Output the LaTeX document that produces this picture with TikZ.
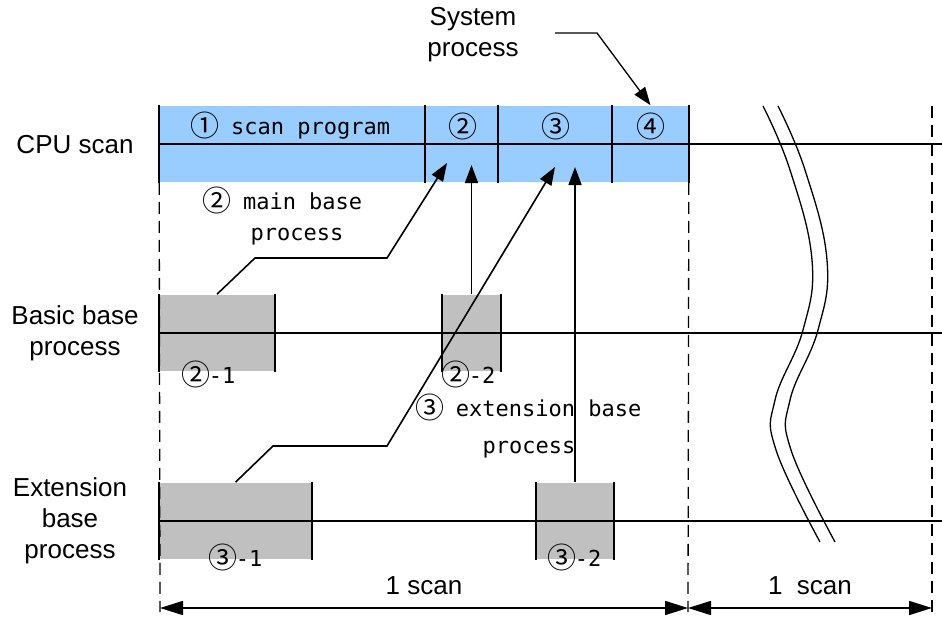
\documentclass[tikz,border=0pt]{standalone}
\usepackage{fontspec}
\setmainfont{Liberation Sans}
\newfontfamily\gulim{DejaVu Sans Mono}
\newfontfamily\circfnt{Noto Sans CJK KR}
\usetikzlibrary{arrows.meta}
\definecolor{scanblue}{RGB}{153,204,255}
\definecolor{procgray}{RGB}{192,192,192}
\newcommand{\cnum}[1]{\makebox[26pt]{\circfnt\fontsize{29}{29}\selectfont\raisebox{-2pt}{#1}}}
\tikzset{
  cell/.style={fill=scanblue, inner sep=0pt, minimum height=76pt},
  procbox/.style={fill=procgray, inner sep=0pt, minimum height=76pt},
  mono/.style={font=\gulim\fontsize{22}{37}\selectfont, inner sep=0pt, align=center},
  tip/.style={-{Triangle[length=18pt,width=13pt]}},
  dimline/.style={{Triangle[length=23pt,width=14pt]}-{Triangle[length=23pt,width=14pt]}},
  guide/.style={dash pattern=on 12pt off 7pt, line width=1.3pt},
  wave/.style={line width=1.3pt}
}

\begin{document}
\begin{tikzpicture}[x=1pt, y=-1pt, line width=1.6pt, font=\fontsize{26}{31}\selectfont]
  \useasboundingbox (0,0) rectangle (942,623);

  \node[cell, minimum width=266pt] (c1) at (293,144) {};
  \node[cell, minimum width=73pt] (c2) at (462.5,144) {};
  \node[cell, minimum width=114pt] (c3) at (556,144) {};
  \node[cell, minimum width=75pt] (c4) at (650.5,144) {};

  \node[procbox, minimum width=114pt] (b21) at (217,333) {};
  \node[procbox, minimum width=57pt] (b22) at (471.5,333) {};
  \node[procbox, minimum width=151pt] (b31) at (235.5,521) {};
  \node[procbox, minimum width=76pt] (b32) at (575,521) {};

  \draw (c1.west) -- (942,144);
  \draw (b21.west) -- (942,333);
  \draw (b31.west) -- (942,521);

  \foreach \c in {c1,c2,c3,c4}
    \draw (\c.north west) -- (\c.south west);
  \draw (c4.north east) -- (c4.south east);
  \foreach \b in {b21,b22,b31,b32}
    \draw (\b.north west) -- (\b.south west)
          (\b.north east) -- (\b.south east);

  \coordinate (s0) at (160,608);
  \coordinate (s1) at (688,608);
  \coordinate (s2) at (932,608);
  \draw[guide] (c1.south west) -- (160,612);
  \draw[guide] (c4.south east) -- (688,612);
  \draw[guide] (932,106) -- (932,612);
  \draw[dimline] (s0) -- node[above=9pt] {1 scan} (s1);
  \draw[dimline] (s1) -- node[above=9pt] {1\ \ scan} (s2);

  \draw[wave] plot[smooth, tension=0.7] coordinates
    {(763,106) (790,170) (812,260) (803,330) (775,400) (776,450) (820,542)};
  \draw[wave] plot[smooth, tension=0.7] coordinates
    {(778,106) (805,170) (827,260) (818,330) (790,400) (791,450) (835,542)};

  \node (cpu) at (75,145) {CPU scan};
  \node[align=center] (basic) at (75,333) {Basic base\\process};
  \node[align=center] (ext) at (70,521) {Extension\\base\\process};
  \node[align=center] (sys) at (473,35) {System\\process};

  \coordinate (sysend) at (555,33);
  \draw[tip, line width=1.3pt] (sysend) -- (597,33) -- (c4.north);

  \node[mono] (p1) at (291,126) {\cnum{①} scan program};
  \node[mono] (p2) at (463,126) {\cnum{②}};
  \node[mono] (p3) at (556,126) {\cnum{③}};
  \node[mono] (p4) at (651,126) {\cnum{④}};

  \node[mono] (mainlbl) at (283,200) {\cnum{②} main base};
  \node[mono] (mainlbl2) at (297,237) {process};
  \node[mono] (extlbl) at (529,426) {\cnum{③} extension base\\process};

  \node[mono] (n21) at (209,374) {\cnum{②}-1};
  \node[mono] (n22) at (469,374) {\cnum{②}-2};
  \node[mono] (n31) at (236,557) {\cnum{③}-1};
  \node[mono] (n32) at (575,557) {\cnum{③}-2};

  \coordinate (t21) at (447,163);
  \coordinate (t22) at (471.5,165);
  \coordinate (t31) at (555,167);
  \coordinate (t32) at (575,167);
  \draw[tip] (b21.north) -- (255,258) -- (387,258) -- (t21);
  \draw[tip] (b22.north) -- (t22);
  \draw[tip] (b31.north) -- (273,446) -- (387,446) -- (t31);
  \draw[tip] (b32.north) -- (t32);
\end{tikzpicture}
\end{document}
